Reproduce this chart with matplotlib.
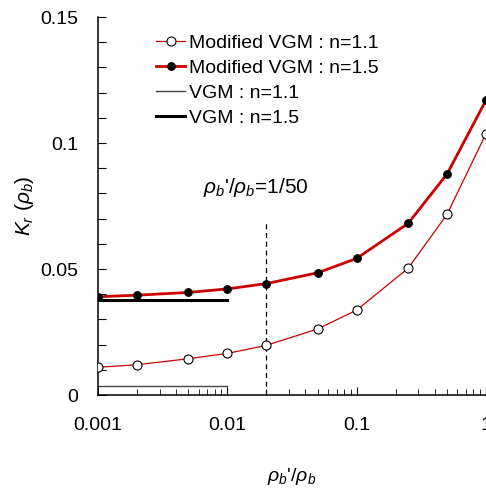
import matplotlib
matplotlib.use("Agg")
import matplotlib.pyplot as plt
import numpy as np

plt.rcParams['font.family'] = ['Liberation Sans', 'DejaVu Sans']
plt.rcParams['mathtext.fontset'] = 'custom'
plt.rcParams['mathtext.rm'] = 'Liberation Sans'
plt.rcParams['mathtext.it'] = 'Liberation Sans:italic'

x = [0.001, 0.002, 0.005, 0.01, 0.02, 0.05, 0.1, 0.25, 0.5, 1.0]
mod_n11 = [0.0110, 0.0120, 0.0144, 0.0165, 0.0197, 0.0262, 0.0337, 0.0503, 0.0717, 0.1037]
mod_n15 = [0.0390, 0.0396, 0.0407, 0.0421, 0.0442, 0.0485, 0.0542, 0.0681, 0.0877, 0.1170]
vgm_x = [0.001, 0.01]
vgm_n11 = [0.0036, 0.0036]
vgm_n15 = [0.0377, 0.0377]
ratio_line = 0.02
ratio_top = 0.0688

red = '#cc0000'
fig = plt.figure(figsize=(4.86, 4.92), dpi=100)
ax = fig.add_axes([98/486, 97/492, 388/486, 378/492])

ax.plot(x, mod_n11, color=red, lw=0.9, marker='o', ms=6.5, mfc='white', mec='black', mew=0.8,
        label='Modified VGM : n=1.1', zorder=3)
ax.plot(x, mod_n15, color=red, lw=2.0, marker='o', ms=5.5, mfc='black', mec='black', mew=0.8,
        label='Modified VGM : n=1.5', zorder=3)
ax.plot(vgm_x, vgm_n11, color='#444444', lw=1.0, label='VGM : n=1.1', zorder=2)
ax.plot(vgm_x, vgm_n15, color='black', lw=2.2, label='VGM : n=1.5', zorder=2)
ax.plot([ratio_line, ratio_line], [0, ratio_top], color='black', lw=0.9, ls=(0, (4, 3)), zorder=1)

ax.text(0.0165, 0.0822, r"$\it{\rho_b}$'/$\it{\rho_b}$=1/50", fontsize=15, ha='center', va='center')

ax.set_xscale('log')
ax.set_xlim(0.001, 1)
ax.set_ylim(0, 0.15)
ax.set_yticks([0, 0.05, 0.1, 0.15])
ax.set_yticklabels(['0', '0.05', '0.1', '0.15'])
ax.set_yticks(np.arange(0, 0.151, 0.01), minor=True)
ax.set_xticks([0.001, 0.01, 0.1, 1])
ax.set_xticklabels(['0.001', '0.01', '0.1', '1'])

for s in ['top', 'right']:
    ax.spines[s].set_visible(False)
for s in ['left', 'bottom']:
    ax.spines[s].set_linewidth(1.1)

ax.tick_params(axis='both', which='major', direction='in', length=6, width=0.8, labelsize=14)
ax.tick_params(axis='y', which='minor', direction='in', length=6, width=0.8)
ax.tick_params(axis='x', which='minor', direction='in', length=4, width=0.6)
ax.tick_params(axis='y', which='major', pad=14)
ax.tick_params(axis='x', which='major', pad=16)

ax.set_xlabel(r"$\it{\rho_b}$'/$\it{\rho_b}$", fontsize=14, labelpad=23)
ax.set_ylabel(r"$\it{K_r}$ ($\it{\rho_b}$)", fontsize=15, labelpad=3)

leg = ax.legend(loc='upper left', bbox_to_anchor=(0.13, 0.975), frameon=False, fontsize=14,
                handlelength=1.5, handletextpad=0.2, labelspacing=0.38, borderaxespad=0)

fig.savefig('out.png', dpi=100)
